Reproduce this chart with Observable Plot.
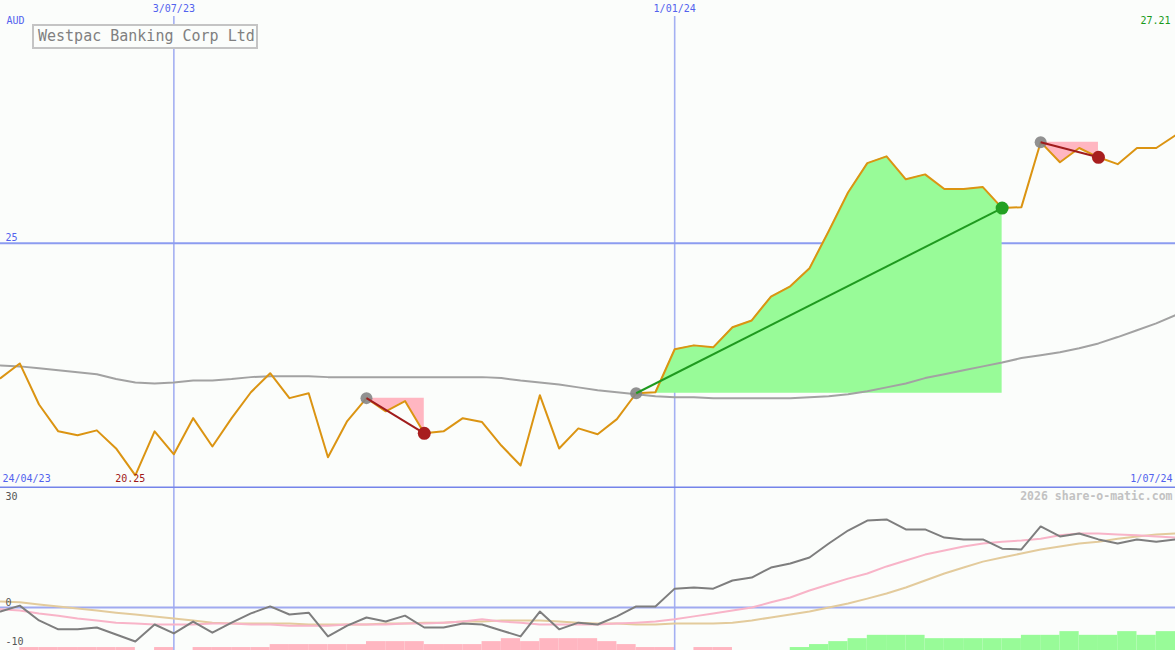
<!DOCTYPE html>
<html><head><meta charset="utf-8">
<script src="https://cdn.jsdelivr.net/npm/d3@7"></script>
<script src="https://cdn.jsdelivr.net/npm/@observablehq/plot@0.6"></script>
<style>
body{margin:0;background:#fbfdfb;}
#chart{position:relative;width:1175px;height:650px;background:#fbfdfb;overflow:hidden;font-family:"DejaVu Sans Mono",monospace;}
#top{position:absolute;left:0;top:0;}
#bottom{position:absolute;left:0;top:488px;}
#title{position:absolute;left:32px;top:24px;width:226px;height:25px;box-sizing:border-box;border:2px solid #c4c4c4;color:#808080;font-size:15px;line-height:21px;padding-left:4px;background:#fbfdfb;white-space:nowrap;}
</style></head>
<body><div id="chart"><div id="top"></div><div id="bottom"></div><div id="title">Westpac Banking Corp Ltd</div></div>
<script>
// ---- data ----
const weeks = [
 "2023-05-01","2023-05-08","2023-05-15","2023-05-22","2023-05-29","2023-06-05","2023-06-12","2023-06-19","2023-06-26","2023-07-03",
 "2023-07-10","2023-07-17","2023-07-24","2023-07-31","2023-08-07","2023-08-14","2023-08-21","2023-08-28","2023-09-04","2023-09-11",
 "2023-09-18","2023-09-25","2023-10-02","2023-10-09","2023-10-16","2023-10-23","2023-10-30","2023-11-06","2023-11-13","2023-11-20",
 "2023-11-27","2023-12-04","2023-12-11","2023-12-18","2023-12-25","2024-01-01","2024-01-08","2024-01-15","2024-01-22","2024-01-29",
 "2024-02-05","2024-02-12","2024-02-19","2024-02-26","2024-03-04","2024-03-11","2024-03-18","2024-03-25","2024-04-01","2024-04-08",
 "2024-04-15","2024-04-22","2024-04-29","2024-05-06","2024-05-13","2024-05-20","2024-05-27","2024-06-03","2024-06-10","2024-06-17",
 "2024-06-24","2024-07-01"];
const price = [
 22.24,22.54,21.70,21.15,21.07,21.17,20.80,20.25,21.15,20.68,
 21.42,20.84,21.42,21.95,22.34,21.83,21.93,20.62,21.36,21.83,
 21.56,21.77,21.11,21.15,21.42,21.34,20.86,20.45,21.89,20.80,
 21.21,21.09,21.40,21.93,21.95,22.83,22.91,22.87,23.28,23.42,
 23.91,24.12,24.49,25.25,26.04,26.64,26.78,26.31,26.41,26.11,
 26.11,26.15,25.72,25.74,27.07,26.66,26.95,26.76,26.62,26.95,
 26.95,27.21];
const movingAvg = [
 22.50,22.48,22.44,22.40,22.36,22.32,22.22,22.15,22.13,22.15,
 22.19,22.19,22.22,22.26,22.28,22.28,22.28,22.26,22.26,22.26,
 22.26,22.26,22.26,22.26,22.26,22.26,22.24,22.19,22.15,22.11,
 22.05,21.99,21.95,21.91,21.87,21.85,21.85,21.83,21.83,21.83,
 21.83,21.83,21.85,21.87,21.91,21.97,22.05,22.13,22.24,22.32,
 22.40,22.48,22.56,22.65,22.71,22.77,22.85,22.95,23.08,23.22,
 23.36,23.53];
const momentum = [
 -1.1,0.5,-3.5,-5.9,-5.9,-5.4,-7.3,-9.2,-4.6,-7.0,
 -3.8,-6.8,-4.1,-1.6,0.3,-1.9,-1.4,-7.8,-4.9,-2.7,
 -3.8,-2.2,-5.4,-5.4,-4.3,-4.6,-6.2,-7.8,-1.1,-5.9,
 -4.1,-4.6,-2.4,0.3,0.3,5.1,5.4,5.1,7.3,8.1,
 10.8,11.9,13.5,17.3,20.8,23.5,23.8,21.1,21.1,18.9,
 18.4,18.4,15.9,15.7,21.9,19.2,20.0,18.4,17.3,18.4,
 17.8,18.4];
const momentumFast = [
 -0.5,-0.8,-1.6,-2.2,-3.0,-3.5,-4.1,-4.3,-4.6,-4.6,
 -4.6,-4.3,-4.3,-4.6,-4.6,-4.9,-4.9,-4.9,-4.6,-4.6,
 -4.6,-4.3,-4.3,-4.1,-3.8,-3.2,-3.8,-4.1,-4.6,-4.6,
 -4.6,-4.6,-4.3,-4.1,-3.8,-3.2,-2.4,-1.6,-0.8,0.0,
 1.4,2.7,4.6,6.2,7.8,9.2,11.1,12.7,14.3,15.4,
 16.5,17.3,17.8,18.1,18.6,19.5,20.0,20.0,19.7,19.5,
 19.2,18.9];
const momentumSlow = [
 1.6,1.4,0.8,0.3,-0.3,-0.8,-1.4,-1.9,-2.4,-3.0,
 -3.5,-4.1,-4.3,-4.3,-4.3,-4.3,-4.6,-4.6,-4.6,-4.6,
 -4.3,-4.3,-4.1,-4.1,-3.8,-3.8,-3.5,-3.5,-3.5,-3.8,
 -4.1,-4.3,-4.3,-4.6,-4.6,-4.3,-4.3,-4.3,-4.1,-3.5,
 -2.7,-1.9,-1.1,0.0,1.1,2.4,3.8,5.4,7.3,9.2,
 10.8,12.4,13.5,14.6,15.7,16.5,17.3,17.8,18.6,19.2,
 19.7,20.0];
// signed weekly histogram heights (positive = green, negative = pink)
const histogram = [
 0,-0.8,-0.8,-0.8,-0.8,-0.8,-0.8,0,-0.8,0,
 -0.8,-0.8,-0.8,-0.8,-1.6,-1.6,-1.6,-1.6,-1.6,-2.4,
 -2.4,-2.4,-1.6,-1.6,-1.6,-2.4,-3.2,-2.4,-3.2,-3.2,
 -3.2,-2.4,-1.6,-0.8,-0.8,0,-0.8,-0.8,0,0,
 0,0.8,1.6,2.4,3.2,4.1,4.1,4.1,3.2,3.2,
 3.2,3.2,3.2,4.1,4.1,5.1,4.1,4.1,5.1,4.1,
 5.1,0];
const tradeEntry = ["2023-09-11","2023-12-18","2024-05-13"];
const tradeExit  = ["2023-10-02","2024-04-29","2024-06-03"];
const tradeWin   = [false,true,false];
const dateTickDates  = ["2023-07-03","2024-01-01"];
const dateTickLabels = ["3/07/23","1/01/24"];
const priceGridValues = [25];
const lowerTickValues = [30,0,-10];
const lowerTickShift = [0,-5,-3];
const lastPriceLabel = "27.21";
const minPriceLabel = "20.25";
const startLabel = "24/04/23";
const endLabel = "1/07/24";
const currencyLabel = "AUD";
const creditLabel = "2026 share-o-matic.com";

// ---- build tables ----
const P = weeks.map((w,i)=>({date:new Date(w), i, price:price[i], ma:movingAvg[i], mom:momentum[i], fast:momentumFast[i], slow:momentumSlow[i], hist:histogram[i], next: i<weeks.length-1 ? new Date(weeks[i+1]) : new Date(w)}));
const byDate = new Map(P.map(d=>[+d.date,d]));
const trades = tradeEntry.map((e,k)=>{
  const s=new Date(e), t=new Date(tradeExit[k]);
  const entryP = byDate.get(+s).price, exitP = byDate.get(+t).price;
  return {s,t,entryP,exitP,win:tradeWin[k],
    seg:P.filter(d=>d.date>=s && d.date<=t).map(d=>({date:d.date,price:d.price,entry:entryP}))};
});
const minD = P.reduce((a,b)=>b.price<a.price?b:a);
const xDomain=[new Date(weeks[0]), new Date(weeks[weeks.length-1])];
const font="DejaVu Sans Mono";
const blue="#5262ee";
const vlines = dateTickDates.map((d,i)=>({date:new Date(d),label:dateTickLabels[i]}));

const upper = Plot.plot({
  width:1175,height:488,margin:0,
  x:{type:"utc",domain:xDomain,axis:null},
  y:{domain:[19.98,29.97],axis:null},
  style:{background:"transparent",fontFamily:font},
  marks:[
    Plot.ruleX(vlines,{x:"date",stroke:"#a4b0f2",strokeWidth:1.6,insetTop:16}),
    Plot.ruleY(priceGridValues,{stroke:"#8c9cf0",strokeWidth:2}),
    Plot.ruleY([20.0],{stroke:"#7484ea",strokeWidth:2}),
    ...trades.map(t=>Plot.areaY(t.seg,{x:"date",y1:"entry",y2:"price",fill:t.win?"#98fb98":"#ffb6c1"})),
    Plot.line(P,{x:"date",y:"ma",stroke:"#a2a2a2",strokeWidth:2}),
    Plot.line(P,{x:"date",y:"price",stroke:"#db9412",strokeWidth:2}),
    Plot.dot(trades,{x:"s",y:"entryP",r:6,fill:"#858585",fillOpacity:0.9}),
    Plot.link(trades,{x1:"s",y1:"entryP",x2:"t",y2:"exitP",stroke:d=>d.win?"#1f9a1f":"#a01c1c",strokeWidth:2}),
    Plot.dot(trades,{x:"t",y:"exitP",r:6.5,fill:d=>d.win?"#22a022":"#a81e1e"}),
    Plot.text(vlines,{x:"date",text:"label",frameAnchor:"top",lineAnchor:"top",dy:4,fill:blue,fontSize:10,fontFamily:font}),
    Plot.text([currencyLabel],{frameAnchor:"top-left",lineAnchor:"top",dx:6,dy:16,fill:blue,fontSize:10,fontFamily:font}),
    Plot.text([lastPriceLabel],{frameAnchor:"top-right",lineAnchor:"top",dx:-5,dy:16,fill:"#1a9a1a",fontSize:10,fontFamily:font}),
    Plot.text(priceGridValues,{y:d=>d,text:d=>String(d),frameAnchor:"left",textAnchor:"start",dx:5,dy:-5,fill:blue,fontSize:10,fontFamily:font}),
    Plot.text([startLabel],{frameAnchor:"bottom-left",lineAnchor:"middle",dx:2,dy:-9.5,fill:blue,fontSize:10,fontFamily:font}),
    Plot.text([minD],{x:"date",text:()=>minPriceLabel,frameAnchor:"bottom",lineAnchor:"middle",dx:-5,dy:-9.5,fill:"#a01818",fontSize:10,fontFamily:font}),
    Plot.text([endLabel],{frameAnchor:"bottom-right",lineAnchor:"middle",dx:-3,dy:-9.5,fill:blue,fontSize:10,fontFamily:font})
  ]
});
document.getElementById("top").appendChild(upper);

const base=-11.62;
const lower = Plot.plot({
  width:1175,height:162,margin:0,
  x:{type:"utc",domain:xDomain,axis:null},
  y:{domain:[base,32.16],axis:null},
  style:{background:"transparent",fontFamily:font},
  marks:[
    Plot.rect(P.filter(d=>d.hist!==0),{x1:"date",x2:"next",y1:base,y2:d=>base+Math.abs(d.hist),fill:d=>d.hist>0?"#98fb98":"#ffb6c1"}),
    Plot.ruleX(vlines,{x:"date",stroke:"#a4b0f2",strokeWidth:1.6}),
    Plot.ruleY([0],{stroke:"#a0aaf0",strokeWidth:2}),
    Plot.line(P,{x:"date",y:"slow",stroke:"#e3cb9c",strokeWidth:2}),
    Plot.line(P,{x:"date",y:"fast",stroke:"#f8b4c8",strokeWidth:2}),
    Plot.line(P,{x:"date",y:"mom",stroke:"#7e7e7e",strokeWidth:2}),
    ...lowerTickValues.map((v,k)=>Plot.text([v],{y:d=>d,text:d=>String(d),frameAnchor:"left",textAnchor:"start",dx:5,dy:lowerTickShift[k],fill:"#555",fontSize:10,fontFamily:font})),
    Plot.text([creditLabel],{frameAnchor:"top-right",lineAnchor:"middle",dx:-3,dy:8,fill:"#c2c2c2",fontWeight:"bold",fontSize:11.5,fontFamily:font})
  ]
});
document.getElementById("bottom").appendChild(lower);
</script>
</body></html>
